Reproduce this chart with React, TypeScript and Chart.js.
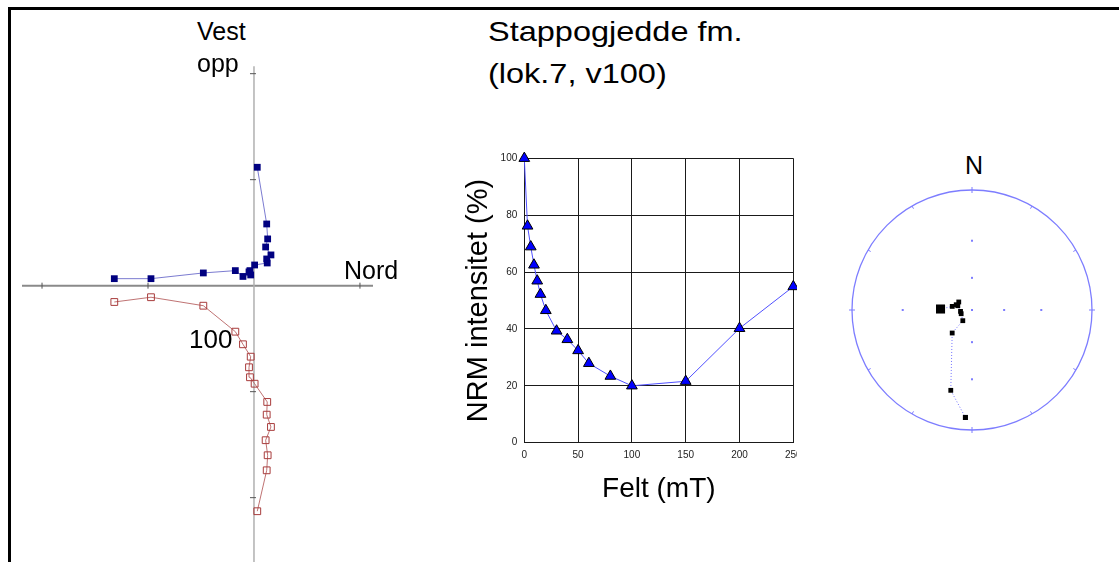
import React, { useEffect, useRef } from "react";
import { Chart, registerables } from "chart.js";

Chart.register(...registerables);
Chart.defaults.font.family = "'Liberation Sans', Arial, sans-serif";

// ---------- Zijderveld diagram (orthogonal projection) ----------
const zNorth = [0.031, 0.12, 0.129, 0.11, 0.16, 0.12, 0.125, 0.006, -0.038, -0.047, -0.031, -0.104, -0.176, -0.478, -0.972, -1.318];
const zWest = [1.117, 0.582, 0.441, 0.365, 0.29, 0.252, 0.214, 0.195, 0.142, 0.13, 0.101, 0.087, 0.142, 0.12, 0.066, 0.066];
const zUp = [-2.128, -1.742, -1.6, -1.458, -1.333, -1.217, -1.097, -0.925, -0.864, -0.77, -0.67, -0.553, -0.434, -0.189, -0.109, -0.154];
const zTicksX = [-2, -1, 1];
const zTicksY = [2, 1, -1, -2, -3];
const zRangeX = [-2.189, 1.123];
const zRangeY = [-2.607, 2.129];
const zAxisTop = 2.07;

// ---------- AF demagnetisation curve ----------
const fieldSteps = [0, 3, 6, 9, 12, 15, 20, 30, 40, 50, 60, 80, 100, 150, 200, 250];
const nrmIntensity = [100, 76.2, 68.9, 62.5, 56.9, 52.2, 46.5, 39.3, 36.3, 32.4, 27.9, 23.4, 20, 21.6, 40.2, 54.9];
const nrmXTicks = [0, 50, 100, 150, 200, 250];
const nrmYTicks = [0, 20, 40, 60, 80, 100];

// ---------- Stereonet (equal-angle) ----------
const stereoDec = [271.8, 280.3, 288.5, 301.2, 286.8, 263.1, 251.1, 220.7, 220.7, 194.8, 183.5];
const stereoInc = [60.6, 71, 74.2, 75.3, 75.9, 79, 79.1, 76.6, 61.6, 20.6, 6.2];
const stereoSize = [6.4, 3.4, 3.4, 3.4, 3.4, 3.4, 3.4, 3.4, 3.4, 3.4, 3.6];
const netTickAngles = [0, 30, 60, 90, 120, 150, 180, 210, 240, 270, 300, 330];
const netDotIncs = [30, 60];

const rad = (d: number) => (d * Math.PI) / 180;
const projR = (inc: number) => Math.tan(rad((90 - inc) / 2));

const zAxesPlugin = {
  id: "zAxes",
  beforeDatasetsDraw(chart: any) {
    const { ctx } = chart;
    const x = chart.scales.x;
    const y = chart.scales.y;
    const x0 = x.getPixelForValue(0);
    const y0 = y.getPixelForValue(0);
    ctx.save();
    ctx.strokeStyle = "#8a8a8a";
    ctx.lineWidth = 2;
    ctx.beginPath();
    ctx.moveTo(x.left, y0);
    ctx.lineTo(x.right, y0);
    ctx.stroke();
    ctx.strokeStyle = "#b0b0b0";
    ctx.lineWidth = 1.5;
    ctx.beginPath();
    ctx.moveTo(x0, y.getPixelForValue(zAxisTop));
    ctx.lineTo(x0, y.bottom);
    ctx.stroke();
    ctx.strokeStyle = "#555";
    ctx.lineWidth = 1;
    zTicksX.forEach((v) => {
      const px = x.getPixelForValue(v);
      ctx.beginPath();
      ctx.moveTo(px, y0 - 3);
      ctx.lineTo(px, y0 + 3);
      ctx.stroke();
    });
    zTicksY.forEach((v) => {
      const py = y.getPixelForValue(v);
      ctx.beginPath();
      ctx.moveTo(x0 - 4, py);
      ctx.lineTo(x0 + 2, py);
      ctx.stroke();
    });
    ctx.restore();
  },
};

const netPlugin = {
  id: "net",
  beforeDatasetsDraw(chart: any) {
    const { ctx } = chart;
    const x = chart.scales.x;
    const y = chart.scales.y;
    const cx = x.getPixelForValue(0);
    const cy = y.getPixelForValue(0);
    const R = x.getPixelForValue(1) - cx;
    ctx.save();
    ctx.strokeStyle = "#7d7dff";
    ctx.lineWidth = 1.3;
    ctx.beginPath();
    ctx.arc(cx, cy, R, 0, Math.PI * 2);
    ctx.stroke();
    ctx.lineWidth = 1;
    netTickAngles.forEach((a) => {
      const s = Math.sin(rad(a));
      const c = Math.cos(rad(a));
      const inner = R - 3;
      const outer = a % 90 === 0 ? R + 3 : R;
      ctx.beginPath();
      ctx.moveTo(cx + s * inner, cy - c * inner);
      ctx.lineTo(cx + s * outer, cy - c * outer);
      ctx.stroke();
    });
    ctx.fillStyle = "#7d7dff";
    netDotIncs.forEach((inc) => {
      const r = projR(inc) * R;
      [
        [0, -1],
        [1, 0],
        [0, 1],
        [-1, 0],
      ].forEach(([dx, dy]) => {
        ctx.fillRect(cx + dx * r - 1, cy + dy * r - 1, 2, 2);
      });
    });
    ctx.fillRect(cx - 1, cy - 1, 2, 2);
    ctx.restore();
  },
};

function App() {
  const zRef = useRef<HTMLCanvasElement>(null);
  const nRef = useRef<HTMLCanvasElement>(null);
  const sRef = useRef<HTMLCanvasElement>(null);

  useEffect(() => {
    const zChart = new Chart(zRef.current as HTMLCanvasElement, {
      type: "scatter",
      data: {
        datasets: [
          {
            data: zNorth.map((v, i) => ({ x: v, y: zWest[i] })),
            showLine: true,
            borderColor: "rgba(100,100,200,0.85)",
            borderWidth: 1,
            pointStyle: "rect",
            pointRadius: 4.8,
            pointBackgroundColor: "#000080",
            pointBorderColor: "#000080",
            pointBorderWidth: 0,
          },
          {
            data: zNorth.map((v, i) => ({ x: v, y: zUp[i] })),
            showLine: true,
            borderColor: "rgba(180,90,90,0.85)",
            borderWidth: 1,
            pointStyle: "rect",
            pointRadius: 4.8,
            pointBackgroundColor: "rgba(255,255,255,0)",
            pointBorderColor: "#a83c3c",
            pointBorderWidth: 1,
          },
        ],
      },
      options: {
        animation: false,
        responsive: false,
        devicePixelRatio: 1,
        layout: { padding: 0, autoPadding: false },
        plugins: { legend: { display: false }, tooltip: { enabled: false } },
        scales: {
          x: { type: "linear", display: false, min: zRangeX[0], max: zRangeX[1] },
          y: { type: "linear", display: false, min: zRangeY[0], max: zRangeY[1] },
        },
      },
      plugins: [zAxesPlugin],
    } as any);

    const nChart = new Chart(nRef.current as HTMLCanvasElement, {
      type: "line",
      data: {
        datasets: [
          {
            data: fieldSteps.map((v, i) => ({ x: v, y: nrmIntensity[i] })),
            borderColor: "rgb(80,80,255)",
            borderWidth: 1,
            tension: 0,
            pointStyle: "triangle",
            pointRadius: 6.2,
            pointBackgroundColor: "#0000ff",
            pointBorderColor: "#000000",
            pointBorderWidth: 1,
            clip: false,
          },
        ],
      },
      options: {
        animation: false,
        responsive: false,
        devicePixelRatio: 1,
        layout: { padding: { top: 8.3, right: 3.7, left: 0, bottom: 0 }, autoPadding: false },
        plugins: { legend: { display: false }, tooltip: { enabled: false } },
        scales: {
          x: {
            type: "linear",
            min: 0,
            max: 250,
            afterBuildTicks: (s: any) => {
              s.ticks = nrmXTicks.map((v) => ({ value: v }));
            },
            grid: { color: "#1a1a1a", lineWidth: 1, drawTicks: false },
            border: { color: "#1a1a1a", width: 1 },
            ticks: { font: { size: 10 }, color: "#222", padding: 7, maxRotation: 0 },
            title: {
              display: true,
              text: "Felt (mT)",
              font: { size: 28 },
              color: "#000",
              padding: { top: 0, bottom: 4 },
            },
            afterFit: (s: any) => {
              s.height = 67.3;
              s.paddingLeft = 0;
              s.paddingRight = 0;
            },
          },
          y: {
            type: "linear",
            min: 0,
            max: 100,
            afterBuildTicks: (s: any) => {
              s.ticks = nrmYTicks.map((v) => ({ value: v }));
            },
            grid: { color: "#1a1a1a", lineWidth: 1, drawTicks: false },
            border: { color: "#1a1a1a", width: 1 },
            ticks: { font: { size: 10 }, color: "#222", padding: 7 },
            title: {
              display: true,
              text: "NRM intensitet (%)",
              font: { size: 29 },
              color: "#000",
              padding: { top: 2, bottom: 0 },
            },
            afterFit: (s: any) => {
              s.width = 64.3;
              s.paddingTop = 0;
              s.paddingBottom = 0;
            },
          },
        },
      },
    } as any);

    const sChart = new Chart(sRef.current as HTMLCanvasElement, {
      type: "scatter",
      data: {
        datasets: [
          {
            data: stereoDec.map((d, i) => {
              const r = projR(stereoInc[i]);
              return { x: r * Math.sin(rad(d)), y: r * Math.cos(rad(d)) };
            }),
            showLine: true,
            borderColor: "rgba(100,100,255,0.9)",
            borderWidth: 1,
            borderDash: [1, 2],
            pointStyle: "rect",
            pointRadius: stereoSize,
            pointBackgroundColor: "#000",
            pointBorderColor: "#000",
            pointBorderWidth: 0,
          },
        ],
      },
      options: {
        animation: false,
        responsive: false,
        devicePixelRatio: 1,
        layout: { padding: 0, autoPadding: false },
        plugins: { legend: { display: false }, tooltip: { enabled: false } },
        scales: {
          x: { type: "linear", display: false, min: -1.05, max: 1.05 },
          y: { type: "linear", display: false, min: -1.05, max: 1.05 },
        },
      },
      plugins: [netPlugin],
    } as any);

    return () => {
      zChart.destroy();
      nChart.destroy();
      sChart.destroy();
    };
  }, []);

  const txt = (style: React.CSSProperties): React.CSSProperties => ({
    position: "absolute",
    fontFamily: "'Liberation Sans', Arial, sans-serif",
    color: "#000",
    lineHeight: 1,
    whiteSpace: "nowrap",
    ...style,
  });

  return (
    <div
      style={{
        position: "fixed",
        left: 0,
        top: 0,
        width: 1119,
        height: 562,
        overflow: "hidden",
        background: "#fff",
      }}
    >
      <div
        style={{
          position: "absolute",
          left: 8,
          top: 7,
          width: 1300,
          height: 800,
          borderTop: "3px solid #000",
          borderLeft: "3px solid #000",
        }}
      />
      <canvas
        ref={zRef}
        width={351}
        height={502}
        style={{ position: "absolute", left: 22, top: 60, width: 351, height: 502 }}
      />
      <canvas
        ref={nRef}
        width={337}
        height={360}
        style={{ position: "absolute", left: 460, top: 150, width: 337, height: 360 }}
      />
      <canvas
        ref={sRef}
        width={252}
        height={252}
        style={{ position: "absolute", left: 846, top: 184, width: 252, height: 252 }}
      />
      <div style={txt({ left: 197, top: 19, fontSize: 25 })}>Vest</div>
      <div style={txt({ left: 197, top: 51, fontSize: 25 })}>opp</div>
      <div style={txt({ left: 344, top: 258, fontSize: 25 })}>Nord</div>
      <div style={txt({ left: 189, top: 326, fontSize: 26 })}>100</div>
      <div style={txt({ left: 965, top: 153, fontSize: 25 })}>N</div>
      <div
        style={txt({
          left: 488,
          top: 18,
          fontSize: 28,
          transform: "scaleX(1.16)",
          transformOrigin: "left top",
        })}
      >
        Stappogjedde fm.
      </div>
      <div
        style={txt({
          left: 488,
          top: 60,
          fontSize: 28,
          transform: "scaleX(1.16)",
          transformOrigin: "left top",
        })}
      >
        (lok.7, v100)
      </div>
    </div>
  );
}

export default App;
